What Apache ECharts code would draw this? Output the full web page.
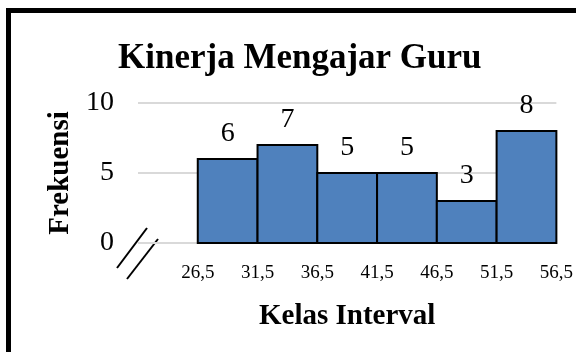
<!DOCTYPE html>
<html>
<head>
<meta charset="utf-8">
<script src="https://cdn.jsdelivr.net/npm/echarts@6/dist/echarts.min.js"></script>
<style>
  html, body { margin: 0; padding: 0; background: #fff; }
  #chart { width: 576px; height: 352px; }
</style>
</head>
<body>
<div id="chart"></div>
<script>
  // batas kelas dan frekuensi
  var lowerBounds = [26.5, 31.5, 36.5, 41.5, 46.5, 51.5];
  var upperBounds = [31.5, 36.5, 41.5, 46.5, 51.5, 56.5];
  var frekuensi = [6, 7, 5, 5, 3, 8];
  var yTicks = [0, 5, 10];

  var font = '"Liberation Serif", "Times New Roman", serif';

  var barData = [];
  for (var i = 0; i < frekuensi.length; i++) {
    barData.push([lowerBounds[i], upperBounds[i], frekuensi[i]]);
  }

  var chart = echarts.init(document.getElementById('chart'));

  var option = {
    animation: false,
    title: {
      text: 'Kinerja Mengajar Guru',
      left: 118,
      top: 41,
      padding: 0,
      textStyle: { fontFamily: font, fontSize: 35, fontWeight: 'bold', color: '#000' }
    },
    grid: { left: 138, right: 19, top: 103, bottom: 109 },
    xAxis: {
      type: 'value',
      min: 21.5,
      max: 56.5,
      interval: 5,
      name: 'Kelas Interval',
      nameLocation: 'middle',
      nameGap: 59,
      nameTextStyle: { fontFamily: font, fontSize: 29, fontWeight: 'bold', color: '#000' },
      axisLine: { show: false },
      axisTick: { show: false },
      splitLine: { show: false },
      axisLabel: {
        margin: 21,
        fontFamily: font,
        fontSize: 19,
        color: '#000',
        showMaxLabel: true,
        formatter: function (v) {
          if (lowerBounds.indexOf(v) < 0 && upperBounds.indexOf(v) < 0) return '';
          return String(v).replace('.', ',');
        }
      }
    },
    yAxis: {
      type: 'value',
      min: yTicks[0],
      max: yTicks[yTicks.length - 1],
      interval: 5,
      name: 'Frekuensi',
      nameLocation: 'middle',
      nameGap: 61,
      nameTextStyle: { fontFamily: font, fontSize: 29, fontWeight: 'bold', color: '#000' },
      axisLine: { show: false },
      axisTick: { show: false },
      splitLine: { lineStyle: { color: '#d9d9d9', width: 2 } },
      axisLabel: { margin: 24, fontFamily: font, fontSize: 28, color: '#000' }
    },
    series: [{
      type: 'custom',
      data: barData,
      encode: { x: [0, 1], y: 2 },
      renderItem: function (params, api) {
        var p0 = api.coord([api.value(0), api.value(2)]);
        var p1 = api.coord([api.value(1), 0]);
        return {
          type: 'rect',
          shape: { x: p0[0], y: p0[1], width: p1[0] - p0[0], height: p1[1] - p0[1] },
          style: { fill: '#4f81bd', stroke: '#000', lineWidth: 2 },
          textContent: {
            style: {
              text: String(api.value(2)),
              fontFamily: font,
              fontSize: 28,
              fill: '#000'
            }
          },
          textConfig: { position: 'top', distance: 10 }
        };
      }
    }],
    graphic: [
      { type: 'rect', shape: { x: 6, y: 8, width: 570, height: 5 }, style: { fill: '#000' } },
      { type: 'rect', shape: { x: 6, y: 8, width: 5, height: 344 }, style: { fill: '#000' } },
      { type: 'line', shape: { x1: 147, y1: 228, x2: 117, y2: 268 }, style: { stroke: '#000', lineWidth: 2 } },
      { type: 'line', shape: { x1: 158, y1: 239, x2: 127, y2: 279 }, style: { stroke: '#000', lineWidth: 2 } }
    ]
  };

  chart.setOption(option);
</script>
</body>
</html>
